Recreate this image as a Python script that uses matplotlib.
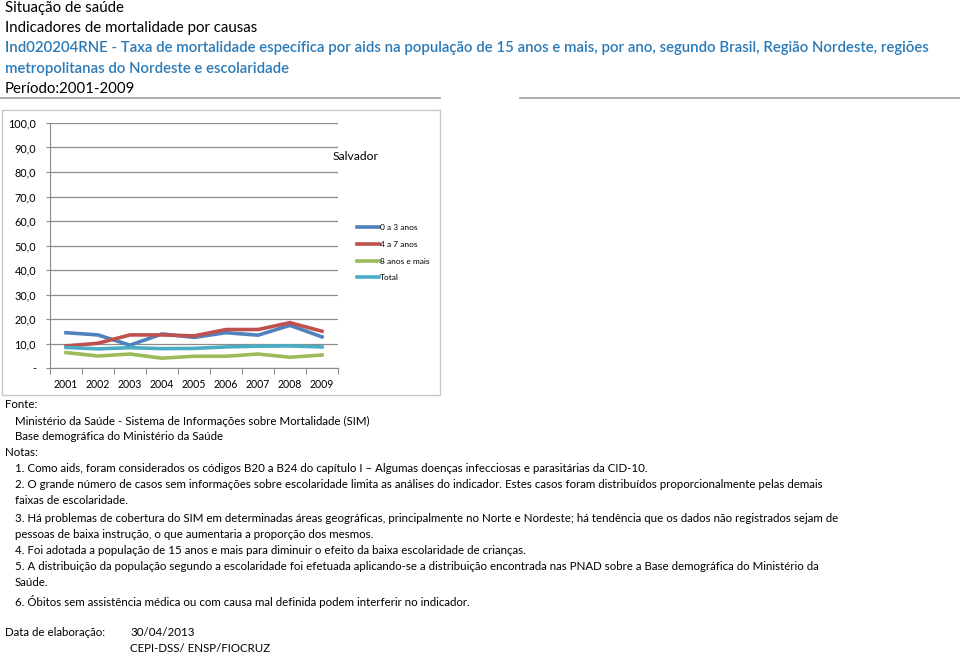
import matplotlib.pyplot as plt
import matplotlib.patches as mpatches
from matplotlib.lines import Line2D

# data (Salvador)
anos = ['2001', '2002', '2003', '2004', '2005', '2006', '2007', '2008', '2009']
esc_0a3 = [14.4, 13.5, 9.3, 13.9, 12.5, 14.4, 13.4, 17.4, 12.7]
esc_4a7 = [9.0, 10.1, 13.5, 13.5, 13.1, 15.7, 15.7, 18.5, 15.0]
esc_8mais = [6.3, 4.9, 5.7, 4.0, 4.8, 4.8, 5.7, 4.4, 5.3]
total = [8.4, 7.8, 8.3, 7.9, 8.0, 8.6, 8.9, 9.0, 8.6]
series_names = ['0 a 3 anos', '4 a 7 anos', '8 anos e mais', 'Total']
yticks = [0, 10, 20, 30, 40, 50, 60, 70, 80, 90, 100]

colors = ['#4F81BD', '#C0504D', '#9BBB59', '#4BACC6']

W, H = 960, 658
plt.rcParams['font.family'] = ['Lato', 'DejaVu Sans']
fig = plt.figure(figsize=(W / 100, H / 100), dpi=100)


def fx(px):
    return px / W


def fy(py):
    return 1 - py / H


def txt(x, y, s, size=10, **kw):
    fig.text(fx(x), fy(y), s, fontsize=size, va='center', ha='left', **kw)


# header
hs = 10.8
txt(5, 8, 'Situação de saúde', hs)
txt(5, 28, 'Indicadores de mortalidade por causas', hs)
blue = '#2a7ab8'
txt(5, 48, 'Ind020204RNE - Taxa de mortalidade específica por aids na população de 15 anos e mais, '
    'por ano, segundo Brasil, Região Nordeste, regiões', hs, color=blue, fontweight='semibold')
txt(5, 69, 'metropolitanas do Nordeste e escolaridade', hs, color=blue, fontweight='semibold')
txt(5, 89, 'Período:2001-2009', hs)

fig.add_artist(Line2D([fx(0), fx(440)], [fy(98), fy(98)], color='#a0a0a0', lw=1.2))
fig.add_artist(Line2D([fx(520), fx(960)], [fy(98), fy(98)], color='#a0a0a0', lw=1.2))

# chart box
fig.add_artist(mpatches.Rectangle((fx(2), fy(395)), fx(438), 285 / H, fill=False,
                                  edgecolor='#c8c8c8', lw=1))

ax = fig.add_axes([fx(50), fy(368), fx(288), 245 / H])
x = range(len(anos))
for vals, c, name in zip([esc_0a3, esc_4a7, esc_8mais, total], colors, series_names):
    ax.plot(x, vals, color=c, lw=2.6, label=name)

ax.set_xlim(-0.5, len(anos) - 0.5)
ax.set_ylim(0, 100)
ax.set_yticks(yticks)
ax.set_yticklabels(['-' if v == 0 else f'{v:.1f}'.replace('.', ',') for v in yticks],
                   fontsize=7.8)
ax.yaxis.grid(True, color='#8c8c8c', lw=0.9)
ax.set_axisbelow(True)
ax.set_xticks([i - 0.5 for i in range(len(anos) + 1)])
ax.set_xticklabels([])
ax.set_xticks(list(x), minor=True)
ax.set_xticklabels(anos, minor=True, fontsize=7.6)
ax.tick_params(axis='x', which='minor', length=0, pad=8)
ax.tick_params(axis='x', which='major', length=4, color='#8c8c8c')
ax.tick_params(axis='y', length=3, color='#8c8c8c', pad=7)
for s in ['top', 'right']:
    ax.spines[s].set_visible(False)
ax.spines['left'].set_color('#8c8c8c')
ax.spines['bottom'].set_color('#8c8c8c')

txt(333, 157, 'Salvador', 8.7)
fig.legend(loc='upper left', bbox_to_anchor=(fx(354), fy(221)), frameon=False,
           fontsize=6, handlelength=2.6, handletextpad=0.1, labelspacing=1.15,
           borderaxespad=0)

# footer
fs = 8.27
txt(5, 404, 'Fonte:', fs)
txt(15, 421, 'Ministério da Saúde - Sistema de Informações sobre Mortalidade (SIM)', fs)
txt(15, 437, 'Base demográfica do Ministério da Saúde', fs)
txt(5, 453, 'Notas:', fs)
notas = [
    (469, '1. Como aids, foram considerados os códigos B20 a B24 do capítulo I \u2013 Algumas doenças infecciosas e parasitárias da CID-10.'),
    (485, '2. O grande número de casos sem informações sobre escolaridade limita as análises do indicador. Estes casos foram distribuídos proporcionalmente pelas demais'),
    (501, 'faixas de escolaridade.'),
    (518, '3. Há problemas de cobertura do SIM em determinadas áreas geográficas, principalmente no Norte e Nordeste; há tendência que os dados não registrados sejam de'),
    (534, 'pessoas de baixa instrução, o que aumentaria a proporção dos mesmos.'),
    (550, '4. Foi adotada a população de 15 anos e mais para diminuir o efeito da baixa escolaridade de crianças.'),
    (567, '5. A distribuição da população segundo a escolaridade foi efetuada aplicando-se a distribuição encontrada nas PNAD sobre a Base demográfica do Ministério da'),
    (583, 'Saúde.'),
    (601, '6. Óbitos sem assistência médica ou com causa mal definida podem interferir no indicador.'),
]
for y, s in notas:
    txt(15, y, s, fs)

txt(5, 633, 'Data de elaboração:', fs)
txt(130, 633, '30/04/2013', fs)
txt(130, 649, 'CEPI-DSS/ ENSP/FIOCRUZ', fs)

fig.savefig('out.png', dpi=100)
